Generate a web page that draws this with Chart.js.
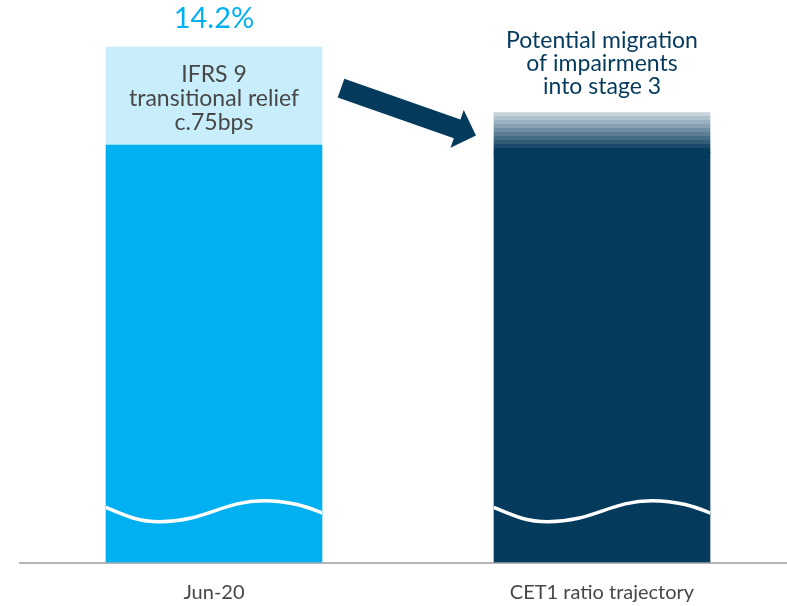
<!DOCTYPE html>
<html>
<head>
<meta charset="utf-8">
<script src="https://cdn.jsdelivr.net/npm/chart.js@4"></script>
<style>
  html, body { margin: 0; padding: 0; background: #fff; }
  #wrap { width: 787px; height: 606px; }
</style>
</head>
<body>
<div id="wrap"><canvas id="cet1Chart"></canvas></div>
<script>
// ----- Data (chart units; the bars are drawn with a broken axis) -----
const categories   = ['Jun-20', 'CET1 ratio trajectory'];
const baseValues   = [11.5, 11.3];   // solid part of each bar
const topValues    = [2.7, 1.1];     // IFRS 9 relief / potential migration
const headlineText = '14.2%';
const reliefLines  = ['IFRS 9', 'transitional relief', 'c.75bps'];
const migrateLines = ['Potential migration', 'of impairments', 'into stage 3'];
const yMax = 15.5;
const waveLevel = 1.4;               // where the white break line sits

const colors = {
  cyan: '#00b0f0', tint: '#c9eefb', navy: '#043a5c',
  text: '#474747', axis: '#b5b5b5',
};

const FONT = 'Lato, "Open Sans", sans-serif';

// stepped fade for the top of the right bar
function migrationFill(ctx) {
  const chart = ctx.chart;
  const y = chart.scales.y;
  if (!y || ctx.dataIndex !== 1) return colors.tint;
  const top = y.getPixelForValue(baseValues[1] + topValues[1]);
  const bot = y.getPixelForValue(baseValues[1]);
  const g = chart.ctx.createLinearGradient(0, top, 0, bot);
  const steps = 10;
  const c0 = [200, 211, 219], c1 = [4, 58, 92];
  for (let i = 0; i < steps; i++) {
    const t = i / (steps - 1);
    const c = c0.map((v, k) => Math.round(v + (c1[k] - v) * t));
    const col = `rgb(${c[0]},${c[1]},${c[2]})`;
    g.addColorStop(i / steps, col);
    g.addColorStop((i + 1) / steps - 0.0001, col);
  }
  g.addColorStop(1, colors.navy);
  return g;
}

// ----- Decorations: wave break, arrow, text -----
const decorPlugin = {
  id: 'decor',
  afterDatasetsDraw(chart) {
    const ctx = chart.ctx;
    const y = chart.scales.y;
    const bars = chart.getDatasetMeta(0).data;
    const tops = chart.getDatasetMeta(1).data;
    const c = y.getPixelForValue(waveLevel);

    // white wavy break across both bars
    bars.forEach(b => {
      const L = b.x - b.width / 2, w = b.width;
      ctx.save();
      ctx.beginPath();
      ctx.rect(L, 0, w, chart.height);
      ctx.clip();
      ctx.beginPath();
      ctx.moveTo(L - 2, c - 5);
      ctx.bezierCurveTo(L + 0.1 * w, c + 5, L + 0.15 * w, c + 10, L + 0.25 * w, c + 10);
      ctx.bezierCurveTo(L + 0.46 * w, c + 10, L + 0.54 * w, c - 11, L + 0.73 * w, c - 11);
      ctx.bezierCurveTo(L + 0.85 * w, c - 11, L + 0.93 * w, c - 5, L + w + 2, c + 2);
      ctx.strokeStyle = '#fff';
      ctx.lineWidth = 3.5;
      ctx.stroke();
      ctx.restore();
    });

    // arrow from left bar towards right bar
    const lb = tops[0], rb = tops[1];
    const tail = { x: lb.x + lb.width / 2 + 19, y: lb.y + 41 };
    const tip  = { x: rb.x - rb.width / 2 - 18, y: rb.y + 23 };
    const dx = tip.x - tail.x, dy = tip.y - tail.y;
    const len = Math.hypot(dx, dy);
    const ux = dx / len, uy = dy / len, nx = -uy, ny = ux;
    const sh = 10, hh = 20, hl = 20;
    const hb = { x: tip.x - ux * hl, y: tip.y - uy * hl };
    ctx.save();
    ctx.fillStyle = colors.navy;
    ctx.beginPath();
    ctx.moveTo(tail.x + nx * sh, tail.y + ny * sh);
    ctx.lineTo(hb.x + nx * sh, hb.y + ny * sh);
    ctx.lineTo(hb.x + nx * hh, hb.y + ny * hh);
    ctx.lineTo(tip.x, tip.y);
    ctx.lineTo(hb.x - nx * hh, hb.y - ny * hh);
    ctx.lineTo(hb.x - nx * sh, hb.y - ny * sh);
    ctx.lineTo(tail.x - nx * sh, tail.y - ny * sh);
    ctx.closePath();
    ctx.fill();
    ctx.restore();

    // text
    ctx.save();
    ctx.textAlign = 'center';
    ctx.textBaseline = 'alphabetic';
    ctx.fillStyle = colors.cyan;
    ctx.font = `29px ${FONT}`;
    ctx.fillText(headlineText, lb.x, lb.y - 19);

    ctx.fillStyle = colors.text;
    ctx.font = `23px ${FONT}`;
    const mid = (lb.y + lb.base) / 2;
    reliefLines.forEach((t, i) => ctx.fillText(t, lb.x, mid - 14 + i * 24));

    ctx.fillStyle = colors.navy;
    migrateLines.forEach((t, i) => ctx.fillText(t, rb.x, rb.y - 65 + i * 23));
    ctx.restore();
  },
};

new Chart(document.getElementById('cet1Chart'), {
  type: 'bar',
  data: {
    datasets: [
      {
        label: 'CET1',
        data: baseValues.map((v, i) => ({ x: i, y: v })),
        backgroundColor: [colors.cyan, colors.navy],
        barThickness: 216,
        borderWidth: 0,
      },
      {
        label: 'Top',
        data: topValues.map((v, i) => ({ x: i, y: v })),
        backgroundColor: migrationFill,
        barThickness: 216,
        borderWidth: 0,
      },
    ],
  },
  options: {
    responsive: true,
    maintainAspectRatio: false,
    animation: false,
    layout: { padding: { left: 20, right: 0, top: 0, bottom: 0 } },
    plugins: { legend: { display: false }, tooltip: { enabled: false } },
    scales: {
      x: {
        type: 'linear',
        stacked: true,
        offset: false,
        min: -0.5,
        max: -0.5 + 767 / 388,
        afterBuildTicks: s => { s.ticks = categories.map((_, i) => ({ value: i })); },
        afterFit: s => { s.height = 43.5; },
        ticks: {
          callback: v => categories[v] ?? '',
          color: colors.text,
          font: { family: FONT, size: 20 },
          padding: 10,
          maxRotation: 0,
          autoSkip: false,
        },
        grid: { display: false, offset: false },
        border: { display: true, color: colors.axis, width: 2 },
      },
      y: {
        stacked: true,
        display: false,
        min: 0,
        max: yMax,
      },
    },
  },
  plugins: [decorPlugin],
});
</script>
</body>
</html>
